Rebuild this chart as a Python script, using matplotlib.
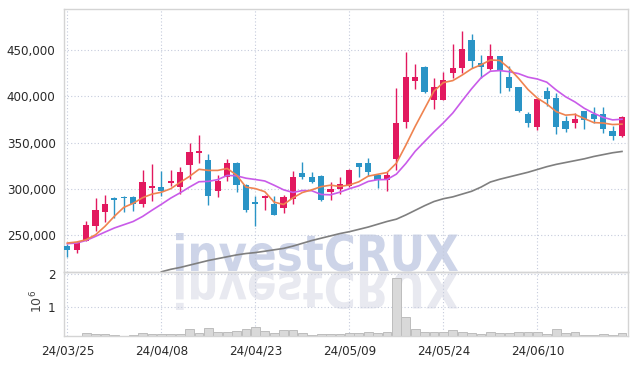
import numpy as np
import matplotlib.pyplot as plt
import matplotlib.transforms as mtransforms
from matplotlib.textpath import TextPath
from matplotlib.font_manager import FontProperties
from matplotlib.patches import PathPatch
from matplotlib.ticker import FuncFormatter

# daily candles, prices in won
opens = [238300, 234000, 243700, 259800, 274800, 290600, 291700, 291400, 283900, 301400,
         302500, 306000, 301700, 325800, 339000, 331500, 297400, 312900, 328300, 304600,
         285400, 289900, 284200, 279600, 289200, 317200, 312900, 314300, 297100, 299600,
         302900, 328200, 328200, 315300, 309600, 332800, 372600, 416700, 431400, 395600,
         396000, 425200, 430600, 460400, 435400, 428900, 443200, 421000, 409900, 380500,
         367200, 405600, 398400, 373300, 371500, 384100, 380900, 380900, 362600, 357200]
highs = [241200, 243300, 265200, 289900, 293500, 291000, 292000, 292000, 320700, 326500,
         318900, 320700, 323200, 349500, 357800, 337600, 314600, 332300, 328600, 305000,
         292800, 293900, 292800, 293900, 319700, 329400, 318600, 314600, 307100, 312900,
         321700, 328500, 333200, 315600, 318800, 409100, 447200, 435000, 432500, 419300,
         426300, 455800, 470100, 466600, 444300, 455800, 443500, 431900, 410200, 383300,
         397700, 409700, 403100, 378700, 381600, 384400, 388100, 388100, 368000, 378700]
lows = [227200, 231200, 243700, 255200, 264800, 268800, 274800, 276300, 280600, 287100,
        292000, 302800, 295000, 310800, 328000, 282800, 291400, 308900, 296300, 274800,
        260500, 277700, 271600, 274200, 284200, 310500, 306500, 286700, 288500, 295000,
        302000, 313400, 314500, 301000, 297300, 320300, 365500, 407700, 403300, 386200,
        395600, 419300, 424700, 430600, 420000, 428600, 403000, 405900, 382700, 366600,
        363700, 388900, 359400, 361800, 365500, 364400, 370900, 360800, 352900, 355800]
closes = [234000, 241900, 261300, 277700, 284200, 287700, 289900, 283400, 307800, 303500,
          297800, 308900, 317800, 340100, 341200, 292000, 308900, 328300, 303900, 277000,
          284000, 292500, 271600, 291400, 312900, 312500, 307100, 288500, 299600, 305700,
          320700, 324200, 318800, 309600, 315000, 371200, 420300, 420700, 404800, 409900,
          417400, 430600, 450700, 438200, 431700, 443200, 428200, 408400, 384100, 371500,
          397000, 396700, 367200, 365000, 375500, 374400, 375200, 364700, 357200, 377600]

# moving averages as drawn (thousand won)
ma5 = [241.8, 242.9, 245.4, 250.7, 259.8, 270.6, 280.2, 284.6, 290.6, 294.5,
       296.5, 300.3, 307.2, 313.6, 321.2, 320.0, 320.0, 322.1, 314.9, 302.0,
       300.4, 297.1, 285.8, 283.3, 290.5, 296.2, 299.1, 302.5, 304.1, 302.7,
       304.3, 307.7, 313.8, 315.8, 317.7, 327.8, 347.0, 367.4, 386.4, 405.4,
       414.6, 416.7, 422.7, 429.4, 433.7, 438.9, 438.4, 429.9, 419.1, 407.1,
       397.8, 391.5, 383.3, 379.5, 380.3, 375.8, 371.5, 371.0, 369.4, 369.8]
ma10 = [241.1, 241.8, 244.6, 249.0, 253.6, 258.0, 261.5, 265.0, 270.4, 277.1,
        283.5, 290.2, 295.9, 302.1, 307.8, 308.2, 310.1, 314.6, 314.2, 311.6,
        310.2, 308.6, 304.0, 299.1, 296.3, 298.3, 298.1, 294.1, 293.7, 296.6,
        300.3, 303.4, 308.1, 310.0, 310.2, 316.0, 327.4, 340.6, 351.1, 361.5,
        371.2, 381.8, 395.0, 407.9, 419.6, 426.8, 427.5, 426.3, 424.2, 420.4,
        418.4, 415.0, 406.6, 399.3, 393.7, 386.8, 381.5, 377.1, 374.4, 375.1]
ma60 = [np.nan, np.nan, np.nan, np.nan, np.nan, np.nan, np.nan, np.nan, np.nan, np.nan,
        210.8, 213.5, 215.5, 218.0, 220.5, 223.0, 225.0, 227.0, 229.0, 230.5,
        231.5, 233.0, 234.5, 236.0, 238.5, 241.5, 244.5, 247.0, 249.5, 252.0,
        254.0, 256.5, 259.0, 262.0, 265.0, 267.5, 272.0, 277.0, 282.0, 286.5,
        289.5, 291.5, 294.5, 297.5, 302.0, 307.5, 310.5, 313.0, 315.5, 318.0,
        321.0, 324.0, 326.5, 328.5, 330.5, 332.5, 335.0, 337.0, 339.0, 340.4]

# volume in millions of shares
volumes = [0.10, 0.10, 0.18, 0.15, 0.15, 0.13, 0.10, 0.13, 0.18, 0.16,
           0.16, 0.16, 0.16, 0.30, 0.18, 0.33, 0.21, 0.21, 0.25, 0.31,
           0.36, 0.25, 0.18, 0.27, 0.27, 0.20, 0.13, 0.16, 0.16, 0.16,
           0.18, 0.18, 0.21, 0.18, 0.21, 1.88, 0.69, 0.31, 0.21, 0.23,
           0.23, 0.27, 0.21, 0.18, 0.15, 0.21, 0.18, 0.18, 0.21, 0.21,
           0.21, 0.15, 0.30, 0.18, 0.21, 0.13, 0.12, 0.15, 0.12, 0.18]

tick_labels = ['24/03/25', '24/04/08', '24/04/23', '24/05/09', '24/05/24', '24/06/10']
price_ticks = [250000, 300000, 350000, 400000, 450000]

UP = '#e2195f'
DOWN = '#2a94c6'
GRID = '#c5cbdc'
TXT = '#2a2a2a'
FONT = dict(family='DejaVu Sans', stretch='condensed', size=9.5, color=TXT)

o = np.array(opens); h = np.array(highs); l = np.array(lows); c = np.array(closes)
x = np.arange(len(closes))
up = c >= o
colors = np.where(up, UP, DOWN)

W, H = 637, 366
fig = plt.figure(figsize=(W / 100, H / 100), dpi=100)
fig.patch.set_facecolor('white')
ax1 = fig.add_axes([64 / W, (H - 272) / H, 564 / W, 263 / H])
ax2 = fig.add_axes([64 / W, (H - 336) / H, 564 / W, 64 / H], sharex=ax1)
ax2.set_facecolor('none')

# watermark + reflection, drawn in pixel space
prop = FontProperties(family='DejaVu Sans', weight='bold')
tp = TextPath((0, 0), 'investCRUX', size=1, prop=prop)
ext = tp.get_extents()
sx = 282 / ext.width
sy = 38 / ext.y1
base_y = H - 271
wm = mtransforms.Affine2D().translate(-ext.x0, 0).scale(sx, sy).translate(176, base_y)
rf = mtransforms.Affine2D().translate(-ext.x0, 0).scale(sx, -sy).translate(176, base_y - 1)
ax1.add_patch(PathPatch(tp, transform=wm, facecolor='#cdd4e8', edgecolor='none',
                        clip_on=False, zorder=0.3))
ax1.add_patch(PathPatch(tp, transform=rf, facecolor='#e8e9f0', edgecolor='none',
                        clip_on=False, zorder=0.3))

# candles
ax1.vlines(x, l, h, colors=colors, linewidth=1.0, zorder=2)
body = np.maximum(np.abs(c - o), 1500)
ax1.bar(x, body, bottom=np.minimum(o, c), width=0.66, color=colors, zorder=3)

ax1.plot(x, np.array(ma60) * 1000, color='#7f7f7f', lw=1.2, zorder=4)
ax1.plot(x, np.array(ma10) * 1000, color='#c95be9', lw=1.2, zorder=4)
ax1.plot(x, np.array(ma5) * 1000, color='#ef8350', lw=1.2, zorder=5)

ax1.set_xlim(-0.36, 59.64)
ax1.set_ylim(210600, 493800)
ax1.set_yticks(price_ticks)
ax1.yaxis.set_major_formatter(FuncFormatter(lambda v, p: f'{v:,.0f}'))
ax1.set_xticks(np.arange(0, len(x), 10))
ax1.tick_params(axis='x', labelbottom=False, length=0)
ax1.tick_params(axis='y', length=0, pad=6)
for t in ax1.get_yticklabels():
    t.set(**FONT)

# volume
ax2.bar(x, volumes, width=0.92, color='#d9d9d9', edgecolor='#bdbdbd', linewidth=0.7, zorder=2)
ax2.set_ylim(0.096, 2.062)
ax2.set_yticks([1, 2])
ax2.set_yticklabels(['1', '2'])
ax2.set_xticks(np.arange(0, len(x), 10))
ax2.set_xticklabels(tick_labels)
ax2.tick_params(length=0, pad=6)
for t in ax2.get_yticklabels() + ax2.get_xticklabels():
    t.set(**FONT)
fig.text(37 / W, (H - 301) / H, r'$10^6$', rotation=90, ha='center', va='center',
         fontsize=9, color='#444444')

for ax in (ax1, ax2):
    ax.set_axisbelow(True)
    ax.grid(True, color=GRID, linestyle=(0, (1, 2)), linewidth=0.8)
    for s in ax.spines.values():
        s.set_color('#d4d4d4')
        s.set_linewidth(1.0)

fig.savefig('out.png', dpi=100, facecolor='white')
